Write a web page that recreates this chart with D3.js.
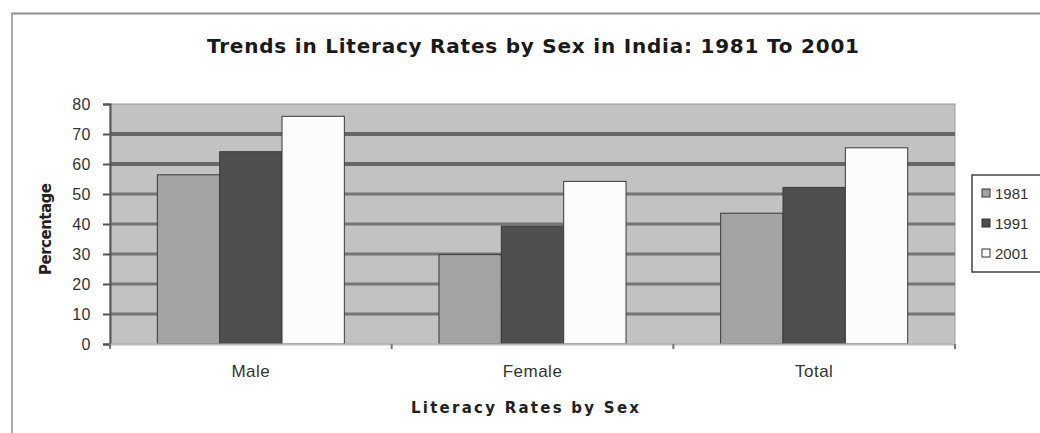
<!DOCTYPE html>
<html><head><meta charset="utf-8">
<script src="https://cdn.jsdelivr.net/npm/d3@7"></script>
<style>body{margin:0;background:#fff;}svg{display:block;font-family:Arial,"Liberation Sans",sans-serif;}</style>
</head><body><svg id="c" width="1040" height="433"></svg>
<script>
const categories = ["Male", "Female", "Total"];
const seriesNames = ["1981", "1991", "2001"];
const values1981 = [56.4, 29.8, 43.6];
const values1991 = [64.1, 39.3, 52.2];
const values2001 = [75.9, 54.2, 65.4];
const yTicks = [0, 10, 20, 30, 40, 50, 60, 70, 80];
const seriesValues = [values1981, values1991, values2001];
const colors = ["#a3a3a3", "#4f4f4f", "#fbfbfb"];

const svg = d3.select("#c");
const W = 1040, H = 433;
const boldFont = "'DejaVu Sans', Verdana, sans-serif";
// outer frame
svg.append("line").attr("x1",11).attr("x2",W).attr("y1",13.5).attr("y2",13.5).attr("stroke","#8c8c8c").attr("stroke-width",2);
svg.append("line").attr("x1",12).attr("x2",12).attr("y1",13).attr("y2",H).attr("stroke","#aaa").attr("stroke-width",2);

const m = {l:110, r:955, t:104, b:344};
const x = d3.scaleBand().domain(categories).range([m.l, m.r]).paddingInner(0.336).paddingOuter(0.168);
const xs = d3.scaleBand().domain(seriesNames).range([0, x.bandwidth()]);
const y = d3.scaleLinear().domain([0, 80]).range([m.b, m.t]);

// plot bg
svg.append("rect").attr("x",m.l).attr("y",m.t).attr("width",m.r-m.l).attr("height",m.b-m.t).attr("fill","#c2c2c2").attr("stroke","#9a9a9a");
// grid
svg.append("g").selectAll("line").data(yTicks.filter(d=>d>0&&d<80)).join("line")
  .attr("x1",m.l).attr("x2",m.r).attr("y1",d=>y(d)).attr("y2",d=>y(d))
  .attr("stroke",d=>d>=60?"#666":"#757575").attr("stroke-width",d=>d>=60?4:3);

// bars
const g = svg.append("g");
categories.forEach((c,i)=>{
  seriesNames.forEach((s,j)=>{
    g.append("rect").attr("x",x(c)+xs(s)).attr("y",y(seriesValues[j][i]))
     .attr("width",xs.bandwidth()).attr("height",y(0)-y(seriesValues[j][i]))
     .attr("fill",colors[j]).attr("stroke","#3a3a3a").attr("stroke-width",1);
  });
});

// y axis
const ya = svg.append("g").attr("transform",`translate(${m.l},0)`)
  .call(d3.axisLeft(y).tickValues(yTicks).tickSize(7).tickPadding(12));
ya.select(".domain").attr("stroke","#555").attr("stroke-width",2);
ya.selectAll(".tick line").attr("stroke","#555").attr("stroke-width",2);
ya.selectAll("text").attr("fill","#333").attr("font-size",16).attr("letter-spacing",0.5);

// x axis
const xa = svg.append("g").attr("transform",`translate(0,${m.b})`)
  .call(d3.axisBottom(x).tickSize(0).tickPadding(21));
xa.select(".domain").attr("stroke","#bbb").attr("stroke-width",2);
xa.selectAll("text").attr("fill","#333").attr("font-size",17).attr("letter-spacing",0.5);
const bounds = [m.l, (x("Male")+x.bandwidth()+x("Female"))/2, (x("Female")+x.bandwidth()+x("Total"))/2, m.r];
svg.append("g").selectAll("line").data(bounds).join("line")
  .attr("x1",d=>d).attr("x2",d=>d).attr("y1",m.b).attr("y2",m.b+5).attr("stroke","#777").attr("stroke-width",2);

// titles
svg.append("text").attr("x",533).attr("y",53).attr("text-anchor","middle")
  .attr("font-family",boldFont).attr("font-size",20).attr("font-weight","bold").attr("fill","#1a1a1a")
  .attr("textLength",652).attr("lengthAdjust","spacing")
  .text("Trends in Literacy Rates by Sex in India: 1981 To 2001");
svg.append("text").attr("x",525).attr("y",413).attr("text-anchor","middle")
  .attr("font-family",boldFont).attr("font-size",15).attr("font-weight","bold").attr("fill","#222")
  .attr("textLength",228).attr("lengthAdjust","spacing")
  .text("Literacy Rates by Sex");
svg.append("text").attr("transform","translate(51,229) rotate(-90)").attr("text-anchor","middle")
  .attr("font-family",boldFont).attr("font-size",15).attr("font-weight","bold").attr("fill","#222")
  .attr("textLength",92).attr("lengthAdjust","spacing")
  .text("Percentage");

// legend
const lg = svg.append("g");
lg.append("rect").attr("x",972).attr("y",175).attr("width",80).attr("height",97).attr("fill","#fff").attr("stroke","#444").attr("stroke-width",1.5);
seriesNames.forEach((s,j)=>{
  const yy = 194 + j*30;
  lg.append("rect").attr("x",982).attr("y",yy-5).attr("width",8).attr("height",8).attr("fill",colors[j]).attr("stroke","#333");
  lg.append("text").attr("x",995).attr("y",yy+5).attr("font-size",15).attr("fill","#333").text(s);
});
</script></body></html>
